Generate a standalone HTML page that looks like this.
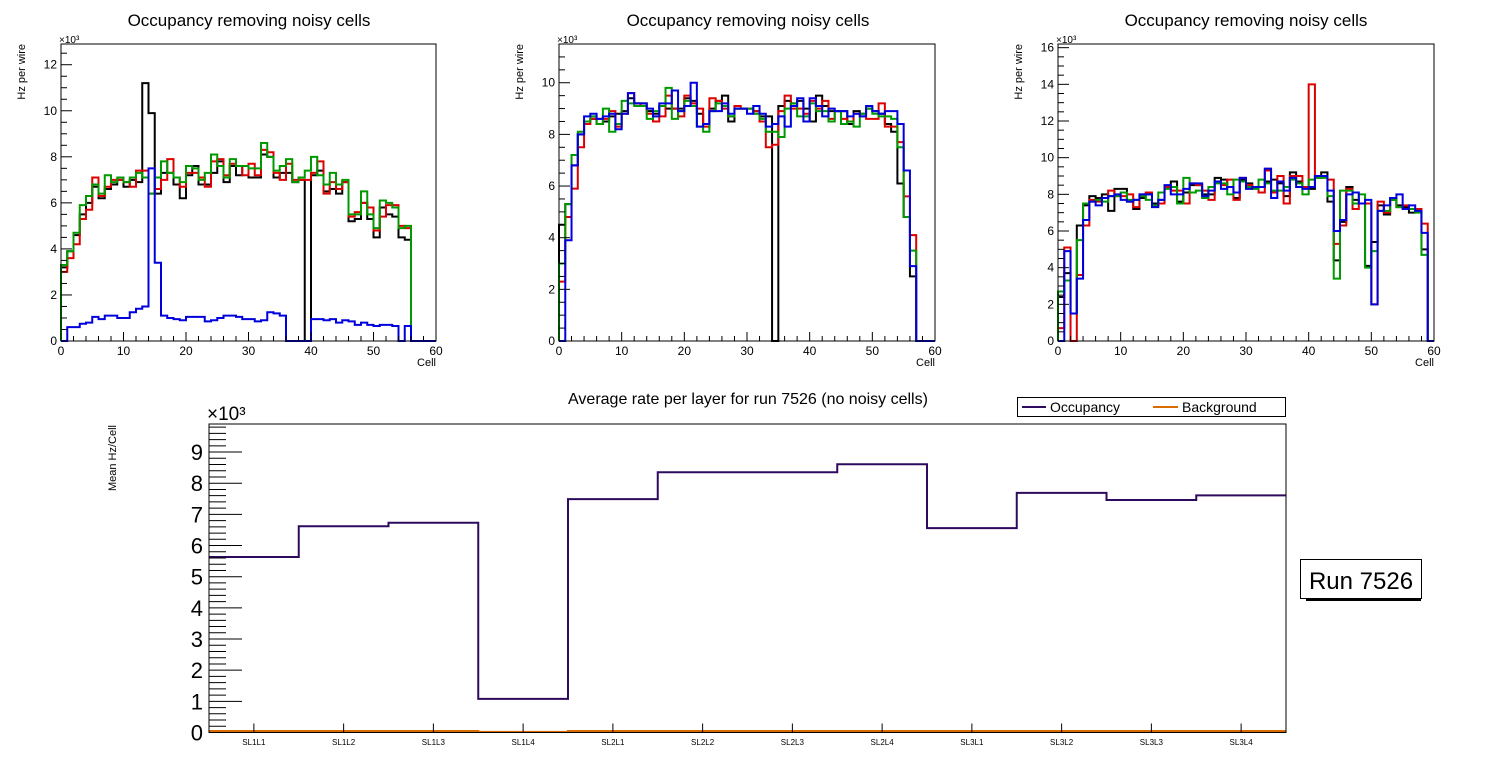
<!DOCTYPE html>
<html><head><meta charset="utf-8"><style>
body{margin:0;background:#fff;}
svg{display:block;font-family:"Liberation Sans",sans-serif;}
</style></head><body>
<svg id="c" width="1496" height="772" xmlns="http://www.w3.org/2000/svg"></svg>
<script>
const cells = Array.from({length:60},(_,i)=>i);
const p1Black=[3.2,3.9,4.6,5.5,6.0,6.7,6.2,6.6,6.8,7.0,6.7,7.0,6.9,11.2,9.9,6.4,7.3,7.3,6.8,6.2,7.2,7.6,6.8,6.8,7.3,7.8,6.9,7.6,7.2,7.6,7.1,7.1,8.1,8.0,7.1,7.3,7.3,6.9,7.0,0,7.2,7.4,6.5,6.6,6.4,6.9,5.2,5.3,6.0,5.3,4.5,5.8,5.5,5.4,4.5,4.4,0,0,0,0];
const p1Red=[3.0,3.6,4.2,5.3,5.7,7.1,6.3,6.7,7.0,7.0,6.9,6.7,7.4,7.4,6.4,6.6,7.0,7.9,7.1,6.7,7.3,7.3,7.1,6.7,7.8,7.9,7.2,7.7,7.6,7.2,7.7,7.2,8.3,8.2,7.3,7.0,7.7,7.0,7.0,7.0,7.3,7.8,6.4,6.9,6.6,6.9,5.4,5.6,6.0,5.8,4.8,5.4,5.9,5.9,5.0,4.9,0,0,0,0];
const p1Green=[3.3,3.9,4.7,5.9,6.3,6.8,6.4,7.2,6.9,7.1,6.9,7.1,7.3,7.1,6.4,7.1,7.8,7.3,7.1,6.9,7.6,7.5,7.0,7.3,8.1,7.6,7.1,7.9,7.6,7.6,7.5,7.5,8.6,8.0,7.4,7.6,7.9,6.9,7.1,7.4,8.0,7.2,6.8,7.3,6.8,7.0,5.5,5.5,6.5,5.5,4.9,6.1,6.0,5.8,4.9,5.0,0,0,0,0];
const p1Blue=[0,0.6,0.6,0.75,0.8,1.05,0.95,1.1,1.1,1.0,1.0,1.25,1.4,1.5,7.5,3.4,1.1,1.0,0.95,0.9,1.05,1.05,1.05,0.85,0.9,1.0,1.1,1.1,1.05,0.95,0.95,0.85,0.9,1.25,1.2,1.1,0,0,0,0,0.95,0.95,0.9,0.95,0.8,0.9,0.85,0.7,0.8,0.7,0.65,0.7,0.7,0.65,0,0.65,0,0,0,0];
const p2Black=[4.5,5.3,6.8,8.0,8.5,8.6,8.4,8.5,8.7,8.8,8.9,9.4,9.2,9.2,8.9,8.8,9.1,9.0,9.0,9.0,9.4,9.3,8.8,8.4,9.0,9.3,9.5,8.5,9.0,9.0,9.0,8.9,8.7,8.7,0,9.1,9.3,9.2,9.3,9.0,8.5,9.5,9.1,8.9,8.9,8.9,8.4,8.9,8.8,9.0,8.9,8.8,8.4,8.1,6.1,4.8,2.5,0,0,0];
const p2Red=[2.3,4.8,5.9,7.5,8.4,8.6,8.6,8.6,8.9,8.3,8.8,9.6,9.2,9.1,8.8,8.5,8.7,9.5,9.0,8.7,9.5,9.2,9.0,8.3,9.4,9.3,9.0,8.7,9.1,9.0,9.0,8.9,8.5,7.5,7.6,8.9,9.5,9.0,9.0,8.8,9.3,9.0,9.3,8.6,8.9,8.6,8.5,8.8,8.7,8.6,8.6,9.2,8.3,8.3,7.7,5.6,4.1,0,0,0];
const p2Green=[3.0,5.3,7.2,8.1,8.5,8.7,8.4,9.0,8.1,8.4,9.3,9.2,9.1,9.1,8.6,8.9,9.1,9.8,8.6,8.9,9.3,9.1,8.3,8.1,8.9,9.2,9.1,8.7,9.0,9.0,9.0,8.8,8.6,8.1,8.1,7.9,9.0,9.2,8.7,8.7,9.2,8.9,8.9,8.5,8.9,8.4,8.5,8.3,8.8,9.0,8.8,8.7,8.7,8.6,7.5,4.8,3.5,0,0,0];
const p2Blue=[0,3.9,6.8,8.0,8.7,8.8,8.6,8.7,8.8,8.2,8.8,9.6,9.2,9.2,9.0,8.7,9.2,9.2,9.7,8.9,9.1,10.0,8.3,8.4,8.9,8.9,9.2,8.8,9.0,9.0,8.8,9.1,8.8,8.3,8.4,8.7,8.3,9.1,9.4,8.5,9.4,9.1,8.7,9.0,8.9,8.9,8.7,8.8,8.7,9.1,8.9,8.8,8.9,8.9,8.4,6.6,2.9,0,0,0];
const p3Black=[2.4,3.7,1.5,6.3,7.4,7.9,7.8,8.0,7.1,8.3,8.3,7.6,7.2,7.8,8.0,7.5,7.7,8.4,8.7,7.6,8.1,8.5,8.5,8.0,8.0,8.9,8.8,8.4,7.8,8.8,8.6,8.4,8.4,8.7,8.8,8.6,7.9,9.2,8.7,8.4,8.3,9.0,9.2,7.6,4.4,6.5,8.4,7.7,7.5,4.1,5.4,7.4,6.9,7.7,7.4,7.3,7.0,7.1,5.0,0];
const p3Red=[0.7,5.1,0,3.6,6.3,7.7,7.6,7.8,8.2,7.9,7.9,8.0,7.3,8.0,8.1,7.4,7.5,8.4,8.2,8.2,7.5,8.6,8.5,8.2,7.7,8.7,8.5,8.8,7.7,8.9,8.5,8.4,8.1,9.3,8.1,9.0,7.5,9.0,9.0,8.4,14.0,8.9,9.0,8.8,5.3,6.3,8.3,7.2,7.5,7.5,2.0,7.6,7.0,7.8,7.3,7.4,7.2,7.2,6.4,0];
const p3Green=[2.7,3.3,1.5,5.5,7.5,7.6,7.7,7.6,7.9,7.9,8.1,7.7,7.7,7.9,7.7,7.4,8.1,8.3,8.4,7.5,8.9,8.1,8.2,7.8,8.4,8.6,8.6,8.0,8.8,8.7,8.4,8.3,8.8,8.6,8.2,8.2,8.4,8.8,8.6,8.0,8.8,8.9,8.9,7.9,3.4,8.2,8.2,7.5,8.0,4.0,4.9,7.1,7.1,7.7,7.3,7.2,7.2,7.0,4.7,0];
const p3Blue=[0,4.9,1.5,3.4,6.6,7.6,7.4,7.8,7.9,8.0,7.7,7.6,7.7,8.0,8.0,7.3,7.7,8.5,8.0,8.0,8.3,8.6,8.6,7.9,8.2,8.7,8.3,8.4,8.1,8.9,8.3,8.4,8.4,9.4,7.8,8.7,8.2,8.9,8.4,8.3,8.4,9.0,9.0,8.2,6.0,6.6,8.0,8.1,7.5,7.7,2.0,7.1,7.4,7.8,8.0,7.2,7.4,7.1,5.9,0];
const layers=["SL1L1","SL1L2","SL1L3","SL1L4","SL2L1","SL2L2","SL2L3","SL2L4","SL3L1","SL3L2","SL3L3","SL3L4"];
const occupancy=[5.63,6.62,6.73,1.08,7.49,8.35,8.35,8.61,6.56,7.69,7.46,7.61];
const background=[0.05,0.05,0.05,0.02,0.05,0.05,0.05,0.05,0.05,0.05,0.05,0.05];
const yTicksBottom=[0,1,2,3,4,5,6,7,8,9];

const NS="http://www.w3.org/2000/svg";
const svg=document.getElementById('c');
function el(tag,attrs,parent){const e=document.createElementNS(NS,tag);for(const k in attrs)e.setAttribute(k,attrs[k]);(parent||svg).appendChild(e);return e;}
function txt(s,attrs,parent){const t=el('text',attrs,parent);t.textContent=s;return t;}

const panels=[
 {x0:61,x1:436,ymax:12.9,yStep:2,minor:0.5,series:[p1Black,p1Red,p1Green,p1Blue],cx:249},
 {x0:559,x1:935,ymax:11.5,yStep:2,minor:0.5,series:[p2Black,p2Red,p2Green,p2Blue],cx:748},
 {x0:1058,x1:1434,ymax:16.2,yStep:2,minor:0.5,series:[p3Black,p3Red,p3Green,p3Blue],cx:1246}
];
const colors=["#000000","#dd0000","#009900","#0000dd"];
const names=["black","red","green","blue"];
panels.forEach((p,pi)=>{
  const g=el('g',{});
  
  
  const yT=44,yB=341;
  const xs=v=>p.x0+(v/60)*(p.x1-p.x0);
  const ys=v=>yB-(v/p.ymax)*(yB-yT);
  const t=txt('Occupancy removing noisy cells',{x:p.cx,y:26,'font-size':17,'text-anchor':'middle'},g);
  
  
  p.series.forEach((s,si)=>{
    let d='M'+xs(0)+','+ys(0);
    cells.forEach(i=>{d+=' L'+xs(i)+','+ys(s[i])+' L'+xs(i+1)+','+ys(s[i]);});
    d+=' L'+xs(60)+','+ys(0);
    const path=el('path',{d:d,fill:'none',stroke:colors[si],'stroke-width':2},g);
    
    
  });
  el('rect',{x:p.x0,y:yT,width:p.x1-p.x0,height:yB-yT,fill:'none',stroke:'#000','stroke-width':1},g);
  for(let v=0;v<=60;v+=2){const big=v%10===0;el('line',{x1:xs(v),x2:xs(v),y1:yB,y2:yB-(big?9:5),stroke:'#000'},g);}
  for(let v=0;v<=60;v+=10){const l=txt(String(v),{x:xs(v),y:355,'font-size':12,'text-anchor':'middle'},g);
    }
  for(let v=0;v<=p.ymax;v+=p.minor){const big=Math.abs(v%p.yStep)<1e-6;el('line',{x1:p.x0,x2:p.x0+(big?11:6),y1:ys(v),y2:ys(v),stroke:'#000'},g);
    if(big){const l=txt(String(v),{x:p.x0-4,y:ys(v)+4,'font-size':12,'text-anchor':'end'},g);
      }}
  const xl=txt('Cell',{x:p.x1,y:366,'font-size':11,'text-anchor':'end'},g);
  
  const yl=txt('Hz per wire',{x:0,y:0,'font-size':11,'text-anchor':'end',transform:'translate('+(p.x0-36)+',44) rotate(-90)'},g);
  
  const ex=txt('×10³',{x:p.x0-2,y:43,'font-size':10},g);
  
});

(function(){
  const g=el('g',{});
  
  
  const x0=209,x1=1286,yT=424,yB=732.5,ymax=9.9;
  const bw=(x1-x0)/layers.length;
  const xs=i=>x0+i*bw;
  const ys=v=>yB-(v/ymax)*(yB-yT);
  const t=txt('Average rate per layer for run 7526 (no noisy cells)',{x:748,y:404,'font-size':16,'text-anchor':'middle'},g);
  
  function step(arr,color,name){
    let d='M'+xs(0)+','+ys(arr[0]);
    arr.forEach((v,i)=>{ if(i>0) d+=' L'+xs(i)+','+ys(v); d+=' L'+xs(i+1)+','+ys(v);});
    const p=el('path',{d:d,fill:'none',stroke:color,'stroke-width':2},g);
    
  }
  step(background,'#d96c00','background-line');
  step(occupancy,'#2e0a5e','occupancy-line');
  el('rect',{x:x0,y:yT,width:x1-x0,height:yB-yT,fill:'none',stroke:'#000'},g);
  for(let v=0;v<=ymax+1e-6;v+=0.2){const big=Math.abs(v-Math.round(v))<1e-6;el('line',{x1:x0,x2:x0+(big?33:17),y1:ys(v),y2:ys(v),stroke:'#000'},g);}
  yTicksBottom.forEach(v=>{const l=txt(String(v),{x:x0-6,y:ys(v)+8,'font-size':22,'text-anchor':'end'},g);
    });
  layers.forEach((n,i)=>{const cx=xs(i)+bw/2;el('line',{x1:cx,x2:cx,y1:yB,y2:yB-9,stroke:'#000'},g);
    const l=txt(n,{x:cx,y:745,'font-size':8,'text-anchor':'middle'},g);
    });
  const ex=txt('×10³',{x:x0-2,y:420,'font-size':19},g);
  
  const yl=txt('Mean Hz/Cell',{x:0,y:0,'font-size':11,'text-anchor':'end',transform:'translate(116,425) rotate(-90)'},g);
  
  const lg=el('g',{},g);
  
  el('rect',{x:1017.5,y:397.5,width:268,height:19,fill:'#fff',stroke:'#000'},lg);
  el('line',{x1:1022,x2:1046,y1:407,y2:407,stroke:'#2e0a5e','stroke-width':2},lg);
  const o=txt('Occupancy',{x:1050,y:412,'font-size':14},lg);
  
  el('line',{x1:1153,x2:1178,y1:407,y2:407,stroke:'#d96c00','stroke-width':2},lg);
  const b=txt('Background',{x:1182,y:412,'font-size':14},lg);
  
  const rg=el('g',{},g);
  
  el('rect',{x:1306,y:597,width:115,height:4,fill:'#000'},rg);
  el('rect',{x:1300.5,y:559.5,width:121,height:39,fill:'#fff',stroke:'#000'},rg);
  txt('Run 7526',{x:1361,y:589,'font-size':24,'text-anchor':'middle'},rg);
})();
</script>
</body></html>
